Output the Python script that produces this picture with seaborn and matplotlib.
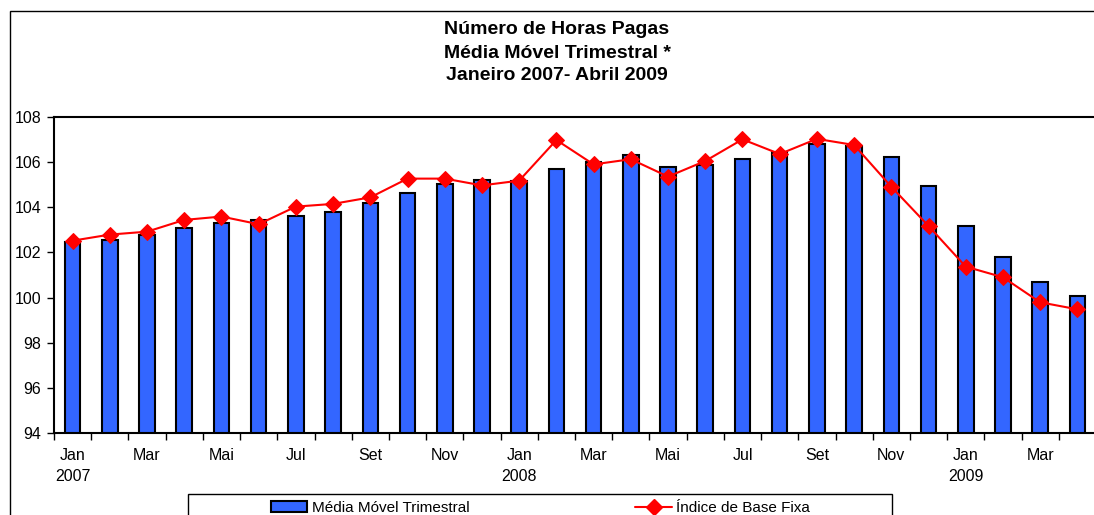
import matplotlib
matplotlib.use("Agg")
import matplotlib.pyplot as plt
from matplotlib.patches import Rectangle, Patch
from matplotlib.lines import Line2D
import seaborn as sns
import pandas as pd

# Jan 2007 .. Apr 2009
periodos = pd.period_range("2007-01", "2009-04", freq="M").astype(str)
meses = ["Jan", "", "Mar", "", "Mai", "", "Jul", "", "Set", "", "Nov", "",
         "Jan", "", "Mar", "", "Mai", "", "Jul", "", "Set", "", "Nov", "",
         "Jan", "", "Mar", ""]
anos = {0: "2007", 12: "2008", 24: "2009"}

media_movel = [102.48, 102.55, 102.76, 103.07, 103.32, 103.44, 103.63, 103.81,
               104.20, 104.63, 105.02, 105.21, 105.16, 105.71, 106.02, 106.33,
               105.80, 105.86, 106.15, 106.46, 106.79, 106.73, 106.23, 104.96,
               103.17, 101.81, 100.69, 100.06]
indice_base = [102.52, 102.79, 102.92, 103.44, 103.59, 103.25, 104.03, 104.15,
               104.44, 105.27, 105.27, 104.97, 105.18, 106.98, 105.90, 106.13,
               105.36, 106.05, 107.01, 106.36, 107.03, 106.76, 104.91, 103.17,
               101.37, 100.90, 99.79, 99.48]

df = pd.DataFrame({"periodo": periodos, "media": media_movel, "indice": indice_base})

sns.set_theme(style="white")
plt.rcParams["font.family"] = ["Liberation Sans", "DejaVu Sans"]
plt.rcParams["text.color"] = "black"

W, H = 1094, 515
fig = plt.figure(figsize=(W / 100, H / 100), dpi=100)
ax = fig.add_axes([54 / W, 1 - 433 / H, (1096 - 54) / W, (433 - 117) / H])

sns.barplot(data=df, x="periodo", y="media", color="#3366FF", saturation=1,
            width=0.42, edgecolor="black", linewidth=1.5, ax=ax)
sns.lineplot(x=df.index, y=df["indice"], color="red", linewidth=1.5,
             marker="D", markersize=8, markeredgecolor="red", ax=ax)

ax.set_ylim(94, 108)
ax.set_xlim(-0.5, len(df) - 0.5)
ax.set_yticks(range(94, 109, 2))
ax.set_xticks(range(len(df)))
ax.set_xticklabels([m + ("\n" + anos[i] if i in anos else "") for i, m in enumerate(meses)],
                   linespacing=1.5)
ax.set_xticks([i - 0.5 for i in range(len(df) + 1)], minor=True)
ax.tick_params(axis="x", which="major", length=0, pad=11, labelsize=11.5, labelcolor="black")
ax.tick_params(axis="x", which="minor", length=5, width=1, color="black", bottom=True)
ax.tick_params(axis="y", length=5, width=1, color="black", left=True, pad=4,
               labelsize=11.5, labelcolor="black")
ax.set_xlabel("")
ax.set_ylabel("")
for s in ["top", "left", "bottom"]:
    ax.spines[s].set_color("black")
    ax.spines[s].set_linewidth(1.5)
ax.spines["right"].set_visible(False)

titulos = ["Número de Horas Pagas", "Média Móvel Trimestral *", "Janeiro 2007- Abril 2009"]
for t, y in zip(titulos, [30, 53, 76]):
    fig.text(557 / W, 1 - y / H, t, ha="center", va="center", fontsize=14,
             weight="bold", color="black")

# outer chart frame and legend frame
fig.patches.append(Rectangle((10 / W, -0.1), 2, 1 - 11 / H + 0.1, transform=fig.transFigure,
                             fill=False, edgecolor="black", linewidth=1))
fig.patches.append(Rectangle((188 / W, -0.1), (892 - 188) / W, 1 - 494 / H + 0.1,
                             transform=fig.transFigure, fill=False, edgecolor="black",
                             linewidth=1))

handles = [Patch(facecolor="#3366FF", edgecolor="black", linewidth=1.5),
           Line2D([], [], color="red", linewidth=1.5, marker="D", markersize=8)]
fig.legend(handles, ["Média Móvel Trimestral", "Índice de Base Fixa"],
           loc="center left", bbox_to_anchor=(263 / W, 1 - 508 / H - 0.03, (818 - 263) / W, 0.06),
           mode="expand", ncol=2, frameon=False, borderpad=0, handlelength=2.4,
           handletextpad=0.3, fontsize=11)

fig.savefig("out.png", dpi=100)
